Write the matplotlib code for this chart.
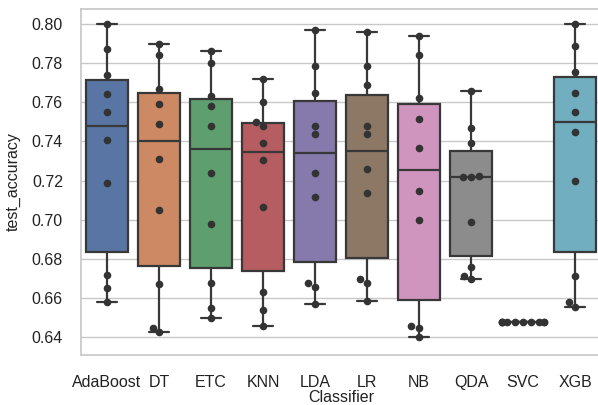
import matplotlib
matplotlib.use("Agg")
import matplotlib.pyplot as plt
import pandas as pd
import seaborn as sns

# 10-fold CV test accuracy per classifier
classifiers = ["AdaBoost", "DT", "ETC", "KNN", "LDA", "LR", "NB", "QDA", "SVC", "XGB"]
ada = [0.800, 0.787, 0.774, 0.764, 0.755, 0.741, 0.719, 0.672, 0.665, 0.658]
dt = [0.790, 0.784, 0.767, 0.759, 0.749, 0.731, 0.705, 0.667, 0.645, 0.6425]
etc = [0.786, 0.780, 0.763, 0.758, 0.748, 0.724, 0.698, 0.668, 0.655, 0.650]
knn = [0.772, 0.760, 0.750, 0.748, 0.739, 0.7305, 0.7065, 0.663, 0.654, 0.646]
lda = [0.797, 0.7785, 0.765, 0.748, 0.744, 0.724, 0.7115, 0.6676, 0.6656, 0.657]
lr = [0.796, 0.7785, 0.769, 0.748, 0.744, 0.726, 0.7136, 0.6696, 0.668, 0.6584]
nb = [0.794, 0.784, 0.762, 0.7514, 0.7366, 0.7146, 0.700, 0.6456, 0.6446, 0.640]
qda = [0.7657, 0.7468, 0.7392, 0.7222, 0.722, 0.7218, 0.6988, 0.6758, 0.6712, 0.6696]
svc = [0.6476] * 10
xgb = [0.800, 0.789, 0.7755, 0.7648, 0.7551, 0.7449, 0.720, 0.6714, 0.6582, 0.6556]
scores = [ada, dt, etc, knn, lda, lr, nb, qda, svc, xgb]

rows = [(c, v) for c, vals in zip(classifiers, scores) for v in vals]
df = pd.DataFrame(rows, columns=["Classifier", "test_accuracy"])

sns.set_theme(style="whitegrid")
plt.rcParams["font.family"] = ["Liberation Sans", "DejaVu Sans"]

fig = plt.figure(figsize=(5.98, 4.05), dpi=100)
ax = fig.add_axes([0.1355, 0.1245, 0.8696, 0.8535])

sns.boxplot(data=df, x="Classifier", y="test_accuracy", hue="Classifier",
            palette="deep", saturation=0.75, linecolor="#383838", linewidth=1.6,
            width=0.8, legend=False, ax=ax)
sns.swarmplot(data=df, x="Classifier", y="test_accuracy", color="#333333",
              size=5.5, ax=ax)

ax.set_ylim(0.6312, 0.8077)
ax.set_xlim(-0.5, 9.5)
ax.set_yticks([0.64, 0.66, 0.68, 0.70, 0.72, 0.74, 0.76, 0.78, 0.80])
ax.tick_params(axis="y", labelsize=11.5, pad=7, labelcolor="#222222")
ax.tick_params(axis="x", labelsize=11.5, pad=9, labelcolor="#222222")
ax.set_xlabel("Classifier", fontsize=11.5, labelpad=0, color="#222222")
ax.set_ylabel("test_accuracy", fontsize=11.5, labelpad=8, color="#222222")
ax.grid(True, axis="y", color="#c8c8c8", lw=1.0)
ax.grid(False, axis="x")
for s in ax.spines.values():
    s.set_color("#c8c8c8")

fig.savefig("out.png", dpi=100)
